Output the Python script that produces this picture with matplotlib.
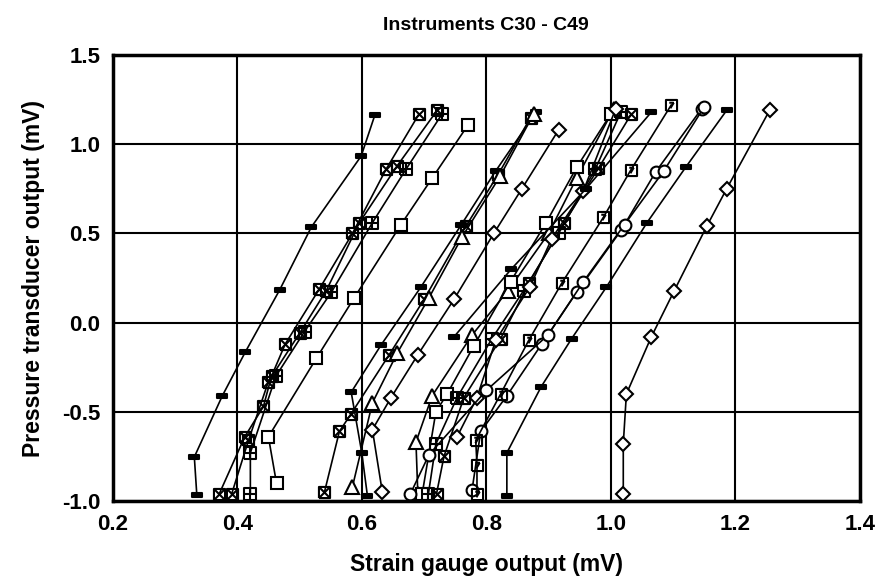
import matplotlib
matplotlib.use("Agg")
import matplotlib.pyplot as plt
from matplotlib.path import Path

plt.rcParams['font.family'] = ['Liberation Sans', 'DejaVu Sans']
plt.rcParams['font.weight'] = 'bold'

# strain gauge output (x, mV) vs pressure transducer output (y, mV)
c30_x = [0.335, 0.331, 0.376, 0.413, 0.468, 0.519, 0.599, 0.621]
c30_y = [-0.966, -0.753, -0.41, -0.164, 0.183, 0.536, 0.934, 1.164]
c31_x = [0.371, 0.412, 0.442, 0.455, 0.477, 0.532, 0.585, 0.639, 0.692]
c31_y = [-0.96, -0.64, -0.47, -0.30, -0.12, 0.19, 0.50, 0.86, 1.17]
c32_x = [0.391, 0.418, 0.450, 0.500, 0.543, 0.596, 0.657, 0.721]
c32_y = [-0.96, -0.66, -0.33, -0.06, 0.18, 0.56, 0.88, 1.19]
c33_x = [0.421, 0.421, 0.462, 0.508, 0.551, 0.617, 0.671, 0.729]
c33_y = [-0.96, -0.73, -0.30, -0.05, 0.17, 0.56, 0.86, 1.17]
c34_x = [0.463, 0.450, 0.527, 0.588, 0.663, 0.713, 0.771]
c34_y = [-0.90, -0.64, -0.20, 0.14, 0.55, 0.81, 1.11]
c35_x = [0.609, 0.600, 0.583, 0.631, 0.695, 0.760, 0.815, 0.880]
c35_y = [-0.97, -0.73, -0.39, -0.125, 0.20, 0.55, 0.85, 1.18]
c36_x = [0.540, 0.564, 0.583, 0.644, 0.700, 0.767, 0.819, 0.871]
c36_y = [-0.95, -0.61, -0.51, -0.18, 0.13, 0.54, 0.83, 1.15]
c37_x = [0.585, 0.617, 0.657, 0.708, 0.761, 0.822, 0.876]
c37_y = [-0.92, -0.45, -0.17, 0.14, 0.48, 0.82, 1.17]
c38_x = [0.633, 0.617, 0.647, 0.690, 0.748, 0.812, 0.857, 0.916]
c38_y = [-0.95, -0.60, -0.42, -0.18, 0.13, 0.50, 0.75, 1.08]
c39_x = [0.690, 0.687, 0.713, 0.777, 0.835, 0.900, 0.945, 1.005]
c39_y = [-0.96, -0.67, -0.41, -0.07, 0.18, 0.50, 0.81, 1.20]
c40_x = [0.697, 0.719, 0.737, 0.780, 0.839, 0.896, 0.945, 1.000]
c40_y = [-0.96, -0.50, -0.40, -0.13, 0.23, 0.56, 0.87, 1.17]
c41_x = [0.707, 0.719, 0.753, 0.809, 0.860, 0.916, 0.975, 1.016]
c41_y = [-0.96, -0.68, -0.42, -0.09, 0.18, 0.50, 0.86, 1.18]
c42_x = [0.720, 0.732, 0.764, 0.823, 0.868, 0.925, 0.980, 1.033]
c42_y = [-0.96, -0.75, -0.42, -0.09, 0.22, 0.56, 0.865, 1.17]
c43_x = [0.753, 0.785, 0.815, 0.870, 0.905, 0.956, 1.008]
c43_y = [-0.64, -0.42, -0.10, 0.20, 0.47, 0.74, 1.20]
c44_x = [0.777, 0.791, 0.833, 0.889, 0.945, 1.017, 1.072, 1.146]
c44_y = [-0.94, -0.61, -0.41, -0.12, 0.17, 0.52, 0.845, 1.20]
c45_x = [0.678, 0.708, 0.800, 0.899, 0.956, 1.022, 1.085, 1.150]
c45_y = [-0.96, -0.74, -0.38, -0.07, 0.23, 0.55, 0.85, 1.21]
c46_x = [0.785, 0.785, 0.783, 0.823, 0.868, 0.921, 0.988, 1.032, 1.097]
c46_y = [-0.96, -0.80, -0.66, -0.40, -0.10, 0.22, 0.59, 0.855, 1.22]
c47_x = [0.748, 0.840, 0.960, 1.065]
c47_y = [-0.08, 0.30, 0.75, 1.18]
c48_x = [0.833, 0.833, 0.888, 0.937, 0.993, 1.058, 1.120, 1.186]
c48_y = [-0.97, -0.73, -0.36, -0.09, 0.20, 0.56, 0.87, 1.19]
c49_x = [1.020, 1.020, 1.025, 1.065, 1.102, 1.154, 1.186, 1.255]
c49_y = [-0.96, -0.68, -0.40, -0.08, 0.18, 0.54, 0.75, 1.19]

xs = [c30_x, c31_x, c32_x, c33_x, c34_x, c35_x, c36_x, c37_x, c38_x, c39_x,
      c40_x, c41_x, c42_x, c43_x, c44_x, c45_x, c46_x, c47_x, c48_x, c49_x]
ys = [c30_y, c31_y, c32_y, c33_y, c34_y, c35_y, c36_y, c37_y, c38_y, c39_y,
      c40_y, c41_y, c42_y, c43_y, c44_y, c45_y, c46_y, c47_y, c48_y, c49_y]
kinds = ['dash', 'boxx', 'boxx', 'boxplus', 'box', 'dash', 'boxx', 'tri', 'dia', 'tri',
         'box', 'boxplus', 'boxx', 'dia', 'circ', 'circ', 'boxslash', 'dash', 'dash', 'dia']

# marker shapes
M, L = Path.MOVETO, Path.LINETO
sq = [(-1, -1), (1, -1), (1, 1), (-1, 1), (-1, -1)]
sq_codes = [M, L, L, L, L]
box_x = Path(sq + [(-1, -1), (1, 1), (-1, 1), (1, -1)], sq_codes + [M, L, M, L])
box_plus = Path(sq + [(0, -1), (0, 1), (-1, 0), (1, 0)], sq_codes + [M, L, M, L])
box_slash = Path(sq + [(0.4, 0.5), (-0.2, -0.5), (-0.4, 0.5), (0.4, 0.5)], sq_codes + [M, L, M, L])
dash = Path([(-1, -0.45), (1, -0.45), (1, 0.45), (-1, 0.45), (-1, -0.45)], [M, L, L, L, Path.CLOSEPOLY])

styles = {
    'dash': dict(marker=dash, markersize=7, markerfacecolor='black'),
    'boxx': dict(marker=box_x, markersize=8, markerfacecolor='none'),
    'boxplus': dict(marker=box_plus, markersize=8, markerfacecolor='none'),
    'boxslash': dict(marker=box_slash, markersize=8, markerfacecolor='none'),
    'box': dict(marker='s', markersize=8, markerfacecolor='white'),
    'tri': dict(marker='^', markersize=9.5, markerfacecolor='white'),
    'dia': dict(marker='D', markersize=7, markerfacecolor='white'),
    'circ': dict(marker='o', markersize=8.5, markerfacecolor='white'),
}

fig = plt.figure(figsize=(8.81, 5.86), dpi=100)
ax = fig.add_axes([0.128, 0.145, 0.848, 0.761])

for x, y, k in zip(xs, ys, kinds):
    ax.plot(x, y, color='black', lw=1.2, markeredgecolor='black',
            markeredgewidth=1.5, **styles[k])

ax.set_xlim(0.2, 1.4)
ax.set_ylim(-1.0, 1.5)
ax.set_xticks([0.2, 0.4, 0.6, 0.8, 1.0, 1.2, 1.4])
ax.set_yticks([-1.0, -0.5, 0.0, 0.5, 1.0, 1.5])
ax.set_xticklabels(['0.2', '0.4', '0.6', '0.8', '1.0', '1.2', '1.4'])
ax.set_yticklabels(['-1.0', '-0.5', '0.0', '0.5', '1.0', '1.5'])
ax.grid(True, color='black', lw=1.5)
ax.set_axisbelow(True)
for s in ax.spines.values():
    s.set_linewidth(2.5)
ax.tick_params(labelsize=16, length=0, pad=9)

ax.set_title('Instruments C30 - C49', fontsize=14, fontweight='bold', pad=18)
ax.set_xlabel('Strain gauge output (mV)', fontsize=16.5, fontweight='bold', labelpad=13)
ax.set_ylabel('Pressure transducer output (mV)', fontsize=16.5, fontweight='bold', labelpad=12)

fig.savefig('out.png', dpi=100)
